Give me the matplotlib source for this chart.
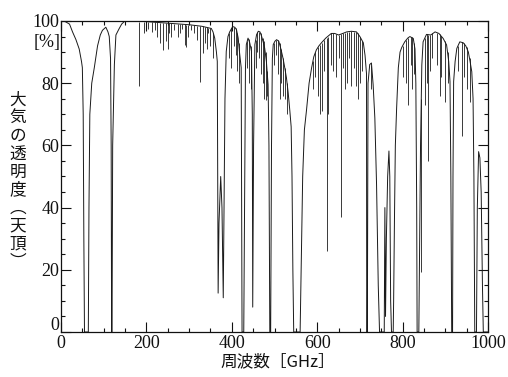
import matplotlib
matplotlib.use('Agg')
import matplotlib.pyplot as plt
from matplotlib.ticker import MultipleLocator, FuncFormatter
import numpy as np

# envelope of the zenith transmission curve [GHz], [%]
envFreq = [0, 10, 20, 27, 35, 42.6, 48, 50, 52, 53.5, 55, 64, 65.5, 67.5, 72, 78,
           85.6, 92, 97, 105, 110, 113, 116, 117.5, 118.5, 119.5, 121, 125, 128.6,
           136, 142, 148, 160, 200, 250, 300, 330, 345, 352, 356, 360, 364, 366,
           368, 370, 374, 377, 380, 382, 384, 387, 391, 395, 402, 407, 411, 415,
           418, 422, 423, 424, 428, 430, 432, 434, 438, 442, 446, 448, 449, 451,
           454, 458, 462, 466, 470, 474, 477, 481, 485, 487, 489, 491, 493, 495,
           497, 501, 505, 510, 515, 520, 524, 528, 532, 536, 539, 541, 543, 545,
           560, 563, 566, 570, 575, 581, 587, 592, 598, 604, 610, 620, 633, 641,
           650, 660, 669, 680, 692, 700, 708, 712, 715.5, 716, 717.5, 719, 723,
           727, 731, 735, 739, 743, 746, 757, 758.5, 760, 762, 765, 768, 770, 772,
           774, 778, 779, 781, 783, 786, 790, 794, 798, 805, 812, 817, 825, 829,
           831, 833, 834, 838, 840, 842, 845, 848, 856, 866, 876, 885, 895, 903,
           908, 911, 913, 915, 917, 918, 919.5, 923, 927, 934, 942, 948, 954, 958,
           962, 965, 967, 969, 973, 975, 978, 981, 984, 987, 989, 1000]
envTrans = [100, 99.8, 99, 96.5, 94, 91, 87, 85, 70, 30, 0, 0, 40, 70, 80, 85,
            92, 95.5, 97, 98, 96.5, 95, 88, 60, 0, 0, 60, 86, 95.5,
            97.5, 99, 99.8, 100, 99.8, 99.3, 98.8, 98.3, 97.8, 97.6, 96.5, 94.5, 90, 87,
            12.5, 35, 50, 40, 11, 45, 75, 90.2, 95, 96.5, 98.2, 98, 97.2, 94.5,
            90, 85, 40, 0, 0, 40, 85, 92.4, 94.5, 93, 90.3, 70, 8, 60,
            92.4, 95.6, 96.7, 96.5, 95, 93, 91.3, 87, 79.5, 60, 0, 0, 60, 88,
            92.4, 93.5, 94, 93.5, 91, 88, 85, 81.7, 77, 71, 66, 50, 20, 0,
            0, 25, 50, 65, 71.4, 80, 85, 88.5, 90.7, 92, 93, 94.5, 96, 96,
            95.5, 96, 96.5, 96.7, 96.5, 95, 93, 89, 83, 0, 0, 80, 86,
            86.5, 79.5, 68.8, 47.4, 15, 0, 0, 40, 5, 30, 50, 58.2, 50, 10,
            0, 0, 10, 37, 60, 72, 85, 90, 91.5, 93.3, 94.5, 95, 94.4, 91,
            80, 40, 0, 0, 30, 60, 85.8, 93.3, 95.7, 95.5, 96.5, 96, 94.4, 92.3,
            87, 80.5, 50, 0, 0, 50, 80.5, 87, 91.2, 93.3, 93, 92, 90, 87,
            83.7, 75, 50, 0, 0, 40, 58, 56, 45, 15, 0, 0]

# narrow absorption lines: centre [GHz], top and bottom of the dip [%]
lineFreq = [183, 195, 203, 212, 220, 225, 232, 240, 246, 250, 254, 258, 265, 273,
            278, 284, 290, 293, 298, 305, 312, 318, 325, 332, 337, 341, 345, 350,
            357, 393, 399, 404, 409, 413, 416, 436, 440, 444, 456, 460, 464, 468,
            472, 475, 479, 483, 499, 503, 508, 512, 516, 520, 524, 530, 590, 596,
            602, 606, 611, 616, 622, 626, 632, 638, 645, 650, 655, 660, 665, 669,
            675, 680, 686, 691, 696, 700, 706, 725, 800, 809, 813, 819, 822, 827,
            843, 852, 856, 860, 864, 870, 880, 887, 891, 899, 906, 930, 938, 944,
            950, 957]
lineTop = [99.8, 99.8, 99.8, 99.7, 99.6, 99.6, 99.5, 99.4, 99.3, 99.3, 99.2, 99.2, 99.1, 99.0,
           99.0, 98.9, 98.9, 98.8, 98.8, 98.7, 98.6, 98.5, 98.4, 98.3, 98.2, 98.0, 97.8, 97.7,
           96, 96, 97.8, 98.2, 97.8, 96, 93, 93.5, 94.3, 92, 94, 96.5, 96.6, 96,
           94.5, 93.5, 90, 84, 93, 94, 94, 93, 91, 88, 85, 80, 87, 90,
           91.8, 92.3, 93, 94, 94.6, 95, 96, 96, 95.8, 95.5, 95.8, 96, 96.2, 96.5,
           96.6, 96.7, 96.6, 96.5, 96, 95, 93.5, 86, 92, 94, 94.5, 95, 94.7, 93,
           75, 94.5, 95.7, 95.6, 95.5, 96, 96.3, 95.8, 95.3, 93.5, 90, 92, 93.2, 92.8,
           91.5, 88]
lineLow = [79, 96, 97.5, 96.5, 97, 95, 93, 90.7, 93.5, 91, 96, 95, 97, 95,
           96, 97.5, 92.3, 91.5, 95, 97, 96, 94, 80.5, 89.6, 93, 91, 96, 92,
           88, 88, 85, 92, 89, 84, 80, 85, 80, 78, 85, 90, 88, 83,
           80, 75, 74.6, 76, 86, 89, 83, 75, 80, 76, 75, 70, 78, 82,
           76, 70, 71, 84, 26, 70, 86, 84, 82, 88, 37, 85, 78, 80,
           88, 79, 85, 79, 75, 80, 84, 78, 82, 80, 73, 86, 78, 83,
           19.4, 73, 80, 55, 84, 88, 86, 76, 82, 74, 80, 84, 63, 82,
           78, 74]

yLabelChars = ['大', '気', 'の', '透', '明', '度', '︵', '天', '頂', '︶']
xLabel = '周波数［GHz］'

W, H = 508, 377
fig = plt.figure(figsize=(W / 100, H / 100), dpi=100)
ax = fig.add_axes([61 / W, 1 - 332 / H, 427 / W, 311 / H])

ax.plot(envFreq, envTrans, color='#1a1a1a', lw=0.7)
ax.vlines(lineFreq, lineLow, lineTop, color='#1a1a1a', lw=0.6)

ax.set_xlim(0, 1000)
ax.set_ylim(0, 100)
ax.xaxis.set_major_locator(MultipleLocator(200))
ax.xaxis.set_minor_locator(MultipleLocator(50))
ax.yaxis.set_major_locator(MultipleLocator(20))
ax.yaxis.set_minor_locator(MultipleLocator(5))
# y "0" is drawn on its own, a little above the tick, clear of the x "0"
ax.yaxis.set_major_formatter(FuncFormatter(lambda v, p: '' if v == 0 else f'{v:g}'))
ax.tick_params(which='both', direction='in', top=True, right=True, width=0.8,
               labelsize=13, colors='#111111')
ax.tick_params(which='major', length=7)
ax.tick_params(which='minor', length=3)
ax.tick_params(axis='y', pad=1)
ax.tick_params(axis='x', pad=2.5)
for lab in ax.get_xticklabels() + ax.get_yticklabels():
    lab.set_family('Liberation Serif')
ax.annotate('0', xy=(0, 0), xycoords='axes fraction', xytext=(-1.5, 4.5),
            textcoords='offset points', ha='right', va='center',
            family='Liberation Serif', fontsize=13, color='#111111')
for sp in ax.spines.values():
    sp.set_linewidth(0.9)
    sp.set_color('#111111')

fig.text(47 / W, 1 - 42 / H, '[%]', ha='center', va='center',
         family='Liberation Serif', fontsize=13, color='#111111')

for i, ch in enumerate(yLabelChars):
    fig.text(18 / W, 1 - (100 + i * 18) / H, ch, ha='center', va='center',
             family=['Noto Sans CJK JP', 'DejaVu Sans'], fontsize=12, color='#111111')

fig.text(278 / W, 1 - 362 / H, xLabel, ha='center', va='center',
         family=['Noto Sans CJK JP', 'DejaVu Sans'], fontsize=12, color='#111111')

fig.savefig('out.png', dpi=100)
